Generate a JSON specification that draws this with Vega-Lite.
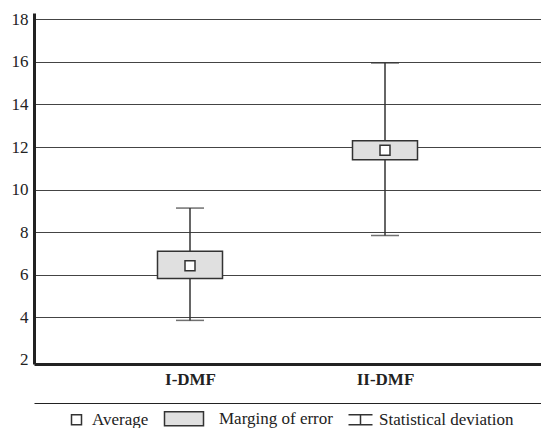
{
  "$schema": "https://vega.github.io/schema/vega-lite/v6.json",
  "autosize": "none",
  "width": 507,
  "height": 351,
  "padding": {"left": 34, "top": 13, "right": 0, "bottom": 64},
  "background": "white",
  "config": {
    "view": {"stroke": null},
    "axis": {"labelColor": "#222", "domainColor": "#222"}
  },
  "data": {
    "values": [
      {"group": "I-DMF", "lo": 3.85, "hi": 9.13, "blo": 5.82, "bhi": 7.1, "mean": 6.42, "kind": "Average"},
      {"group": "II-DMF", "lo": 7.84, "hi": 15.95, "blo": 11.4, "bhi": 12.3, "mean": 11.85, "kind": "Average"}
    ]
  },
  "resolve": {"axis": {"x": "independent"}},
  "layer": [
    {
      "mark": {"type": "rule", "color": "#333", "strokeWidth": 1.5},
      "encoding": {
        "x": {"field": "group", "type": "nominal", "sort": null,
              "scale": {"type": "point", "padding": 0.8},
              "axis": {"title": null, "orient": "bottom", "domainWidth": 3, "ticks": false, "labelAngle": 0,
                       "labelFont": "Liberation Serif", "labelFontWeight": "bold", "labelFontSize": 17, "labelPadding": 7, "grid": false}},
        "y": {"field": "lo", "type": "quantitative",
              "scale": {"domain": [1.8, 18.3], "nice": false, "zero": false},
              "axis": {"title": null, "values": [2, 4, 6, 8, 10, 12, 14, 16, 18], "ticks": false,
                       "domainWidth": 3, "labelFont": "Liberation Serif", "labelFontSize": 17, "labelPadding": 6,
                       "grid": true, "gridColor": "#444", "gridWidth": 1,
                       "gridOpacity": {"condition": {"test": "datum.value == 2", "value": 0}, "value": 1}}},
        "y2": {"field": "hi"}
      }
    },
    {
      "mark": {"type": "tick", "color": "#333", "thickness": 1.5, "size": 28},
      "encoding": {
        "x": {"field": "group", "type": "nominal", "sort": null, "scale": {"type": "point", "padding": 0.8}, "axis": null},
        "y": {"field": "lo", "type": "quantitative"}
      }
    },
    {
      "mark": {"type": "tick", "color": "#333", "thickness": 1.5, "size": 28},
      "encoding": {
        "x": {"field": "group", "type": "nominal", "sort": null, "scale": {"type": "point", "padding": 0.8}, "axis": null},
        "y": {"field": "hi", "type": "quantitative"}
      }
    },
    {
      "mark": {"type": "bar", "fill": "#e0e0e0", "stroke": "#333", "strokeWidth": 1.5, "size": 65},
      "encoding": {
        "x": {"field": "group", "type": "nominal", "sort": null, "scale": {"type": "point", "padding": 0.8},
              "axis": {"title": null, "orient": "bottom", "offset": 39, "labels": false, "ticks": false,
                       "domainWidth": 1.2, "domainColor": "#222", "grid": false}},
        "y": {"field": "blo", "type": "quantitative"},
        "y2": {"field": "bhi"}
      }
    },
    {
      "mark": {"type": "point", "filled": false, "strokeWidth": 1.5, "size": 100, "opacity": 1},
      "encoding": {
        "x": {"field": "group", "type": "nominal", "sort": null, "scale": {"type": "point", "padding": 0.8}, "axis": null},
        "y": {"field": "mean", "type": "quantitative"},
        "shape": {"field": "kind", "type": "nominal",
                  "scale": {"domain": ["Average", "Marging of error", "Statistical deviation"],
                            "range": ["square", "M-7.8,-1.4H0V1.4H-7.8Z", "M-3,-1H1.8M-0.6,-1V1M-3,1H1.8"]},
                  "legend": {"title": null, "orient": "none", "direction": "horizontal", "legendX": 34, "legendY": 397,
                             "symbolSize": 100, "symbolStrokeWidth": 1.5,
                             "labelFont": "Liberation Serif", "labelFontSize": 17, "labelColor": "#222",
                             "labelOffset": 7, "columnPadding": 12, "labelLimit": 0}},
        "fill": {"field": "kind", "type": "nominal",
                 "scale": {"domain": ["Average", "Marging of error", "Statistical deviation"],
                           "range": ["white", "#e0e0e0", "transparent"]},
                 "legend": {"title": null, "orient": "none", "direction": "horizontal", "legendX": 34, "legendY": 397,
                            "symbolSize": 100, "symbolStrokeWidth": 1.5,
                            "labelFont": "Liberation Serif", "labelFontSize": 17, "labelColor": "#222",
                            "labelOffset": 7, "columnPadding": 12, "labelLimit": 0}},
        "stroke": {"field": "kind", "type": "nominal",
                   "scale": {"domain": ["Average", "Marging of error", "Statistical deviation"],
                             "range": ["#333", "#333", "#333"]},
                   "legend": {"title": null, "orient": "none", "direction": "horizontal", "legendX": 34, "legendY": 397,
                              "symbolSize": 100, "symbolStrokeWidth": 1.5,
                              "labelFont": "Liberation Serif", "labelFontSize": 17, "labelColor": "#222",
                              "labelOffset": 7, "columnPadding": 12, "labelLimit": 0}}
      }
    }
  ]
}
